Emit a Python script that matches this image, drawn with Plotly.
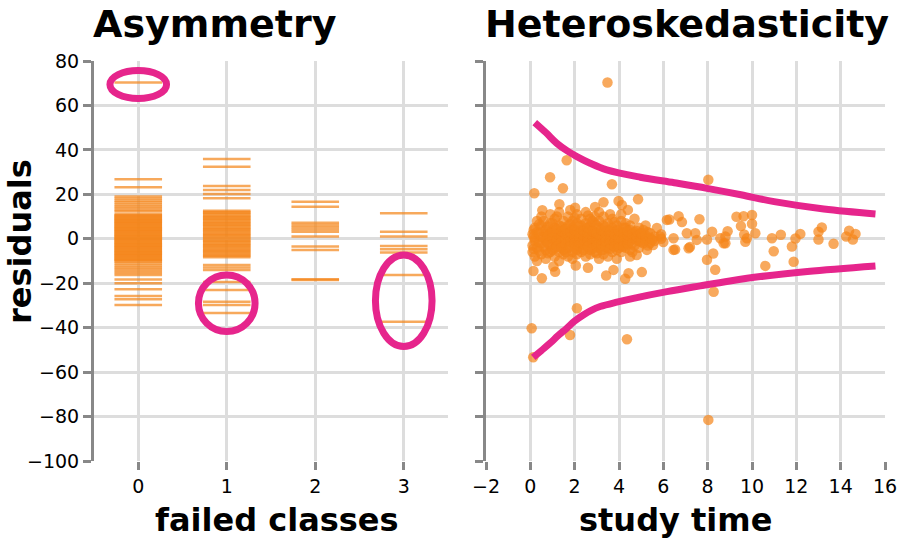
import plotly.graph_objects as go

# ---------------- data ----------------
# Left panel: residuals by number of failed classes
failed0 = [70.3, 26.8, 23.2,
           19.0, 18.1, 17.2, 16.4, 15.5, 14.6, 13.8, 13.0, 12.3,
           11.0, 10.6, 10.2, 9.8, 9.4, 9.0, 8.6, 8.2, 7.8, 7.4, 7.0, 6.6, 6.2, 5.8,
           5.4, 5.0, 4.6, 4.2, 3.8, 3.4, 3.0, 2.6, 2.2, 1.8, 1.4, 1.0, 0.6, 0.2,
           -0.2, -0.6, -1.0, -1.4, -1.8, -2.2, -2.6, -3.0, -3.4, -3.8, -4.2, -4.6,
           -5.0, -5.4, -5.8, -6.2, -6.6, -7.0, -7.4, -7.8, -8.2, -8.6, -9.0, -9.4,
           -9.8, -10.2,
           -11.0, -11.9, -12.8, -13.6, -14.5, -15.4, -16.3,
           -18.3, -20.0, -22.7, -25.7, -27.2, -29.8]
failed1 = [35.9, 32.4, 23.8, 22.0, 20.2, 18.2,
           12.6, 12.1, 11.6, 11.0, 10.4, 9.9, 9.4, 8.8, 8.3, 7.7, 7.2, 6.6, 6.1,
           5.6, 5.0, 4.5, 3.9, 3.4, 2.8, 2.3, 1.7, 1.2, 0.6, 0.1, -0.5, -1.1,
           -1.6, -2.2, -2.7, -3.3, -3.8, -4.4, -4.9, -5.5, -6.1, -6.6, -7.2,
           -7.7, -8.3,
           -11.8, -12.9, -14.0, -19.5, -23.0, -28.3, -29.8, -33.4]
failed2 = [16.7, 14.4, 7.2, 6.2, 5.2, 4.2, 3.2, 1.0, -3.5, -5.0, -18.2, -18.6]
failed3 = [11.5, 3.2, 1.0, -3.2, -4.7, -6.2, -16.3, -37.3]
failed_categories = [0, 1, 2, 3]

# Highlight ellipses (center x, center y, half width, half height) in data units
ellipse_cx = [0, 1, 3]
ellipse_cy = [69.4, -29.0, -27.9]
ellipse_rx = [0.32, 0.32, 0.32]
ellipse_ry = [6.3, 12.7, 20.6]

# Right panel: residuals vs study time
study_outer_x = [3.48, 1.64, 0.89, 1.47, 0.18, 3.68, 8.03, 1.31, 0.54, 4.86, 3.98, 4.13,
                 3.30, 2.02, 2.92, 0.14, 0.52, 1.04, 1.12, 2.10, 0.06, 1.79, 0.13, 4.36,
                 8.27, 8.34, 7.97, 8.25, 2.60, 2.05, 3.42, 3.75, 4.28, 4.43, 5.03, 4.80,
                 5.26, 6.46, 7.14, 5.54, 9.70, 8.03, 6.27, 6.69, 6.84, 7.63, 9.30, 9.62,
                 10.0, 10.0, 9.50, 5.71, 6.46, 7.06, 7.44, 8.20, 8.90, 9.65, 10.15, 7.97,
                 8.57, 8.80, 6.53, 7.20, 9.77, 10.9, 11.3, 12.18, 11.96, 10.98, 11.8, 11.88,
                 10.6, 13.0, 13.15, 13.0, 13.68, 14.38, 14.67, 14.55, 14.25, 5.86, 5.41,
                 7.51, 6.16, 8.72, 8.80, 6.00, 5.20, 5.50]
study_outer_y = [70.3, 35.3, 27.7, 22.7, 20.5, 24.5, 26.6, 15.5, 12.8, 17.8, 17.0, 15.2,
                 16.4, 14.0, 14.3, -14.5, -17.8, -12.5, -14.8, -31.3, -40.3, -43.3, -53.3,
                 -45.2, -23.8, -13.9, -9.4, -6.6, -13.0, -12.0, -16.5, -14.0, -18.0, -15.5,
                 -15.0, -7.3, -5.0, -5.0, -4.3, -2.8, -1.3, -81.5, 8.7, 10.1, 7.5, 8.8, 9.9,
                 10.1, 10.7, 6.8, 5.7, 4.9, 0.2, 2.5, 2.5, 3.2, 3.4, 1.9, 2.5, -0.3, 0.2,
                 -2.0, -4.8, -3.7, 0.2, 0.2, 1.8, 2.2, 0.1, -5.6, -3.5, -10.3, -12.2, 3.2,
                 5.1, -0.3, -2.2, 3.6, 2.2, -0.3, 1.0, 1.0, 2.5, -0.5, 8.5, -2.0, 1.0,
                 -1.5, 6.0, -0.5]

cluster_x = [0.1, 0.1, 0.1,
             0.2, 0.2, 0.2, 0.2,
             0.3, 0.3, 0.3, 0.3,
             0.5, 0.5, 0.5, 0.5, 0.5,
             0.7, 0.7, 0.7, 0.7, 0.7,
             0.9, 0.9, 0.9, 0.9, 0.9, 0.9,
             1.1, 1.1, 1.1, 1.1, 1.1, 1.1,
             1.3, 1.3, 1.3, 1.3, 1.3, 1.3, 1.3,
             1.5, 1.5, 1.5, 1.5, 1.5, 1.5, 1.5,
             1.7, 1.7, 1.7, 1.7, 1.7, 1.7, 1.7,
             1.9, 1.9, 1.9, 1.9, 1.9, 1.9, 1.9, 1.9,
             2.1, 2.1, 2.1, 2.1, 2.1, 2.1, 2.1, 2.1,
             2.3, 2.3, 2.3, 2.3, 2.3, 2.3, 2.3, 2.3,
             2.5, 2.5, 2.5, 2.5, 2.5, 2.5, 2.5, 2.5,
             2.7, 2.7, 2.7, 2.7, 2.7, 2.7, 2.7, 2.7,
             2.9, 2.9, 2.9, 2.9, 2.9, 2.9, 2.9,
             3.1, 3.1, 3.1, 3.1, 3.1, 3.1, 3.1, 3.1,
             3.3, 3.3, 3.3, 3.3, 3.3, 3.3, 3.3,
             3.5, 3.5, 3.5, 3.5, 3.5, 3.5, 3.5,
             3.7, 3.7, 3.7, 3.7, 3.7, 3.7, 3.7,
             3.9, 3.9, 3.9, 3.9, 3.9, 3.9, 3.9,
             4.1, 4.1, 4.1, 4.1, 4.1, 4.1, 4.1,
             4.3, 4.3, 4.3, 4.3, 4.3, 4.3,
             4.5, 4.5, 4.5, 4.5, 4.5, 4.5,
             4.7, 4.7, 4.7, 4.7, 4.7,
             4.9, 4.9, 4.9, 4.9,
             5.1, 5.1, 5.1,
             5.3, 5.3, 5.3,
             5.6, 5.6,
             5.9, 5.9]
cluster_y = [-3, 2, -6,
             0, 5, -8, -1,
             3, -4, 8, -10,
             1, -2, 6, -7, 10,
             -1, 4, -5, 2, -9,
             0, 7, -3, -6, 3, 11,
             2, -4, 5, -1, -8, 9,
             -2, 1, 6, -6, 3, -10, 12,
             0, 4, -3, 8, -5, 2, -7,
             -1, 3, 6, -4, 10, -8, 1,
             2, -2, 5, -6, 0, 8, -9, 4,
             -3, 1, 7, -5, 3, 11, -1, -7,
             0, 4, -4, 2, 9, -6, -2, 6,
             1, -1, 5, -3, -8, 3, 12, 7,
             -2, 2, 6, -5, 0, 9, -7, 4,
             1, -3, 3, -6, 7, -1, 10,
             0, 5, -4, 2, -2, 8, -9, 12,
             -1, 3, -5, 6, 1, -7, 10,
             2, -2, 4, -4, 0, 7, -8,
             -1, 1, 5, -6, 3, 9, -3,
             0, 4, -2, 6, -5, 2, -9,
             1, -3, 3, 8, -6, -1, 11,
             -2, 2, 5, -4, 0, 7,
             1, -1, 4, -5, 6, -8,
             0, 3, -3, 2, 9,
             -1, 2, 5, -4,
             1, -2, 4,
             0, 3, -3,
             1, -1,
             2, 0]

cluster2_x = [0.15, 0.15, 0.15,
              0.4, 0.4, 0.4, 0.4,
              0.6, 0.6, 0.6, 0.6,
              0.8, 0.8, 0.8, 0.8,
              1.0, 1.0, 1.0, 1.0, 1.0,
              1.2, 1.2, 1.2, 1.2, 1.2,
              1.4, 1.4, 1.4, 1.4, 1.4,
              1.6, 1.6, 1.6, 1.6, 1.6,
              1.8, 1.8, 1.8, 1.8, 1.8, 1.8,
              2.0, 2.0, 2.0, 2.0, 2.0, 2.0,
              2.2, 2.2, 2.2, 2.2, 2.2,
              2.4, 2.4, 2.4, 2.4, 2.4,
              2.6, 2.6, 2.6, 2.6, 2.6, 2.6,
              2.8, 2.8, 2.8, 2.8, 2.8, 2.8,
              3.0, 3.0, 3.0, 3.0, 3.0, 3.0,
              3.2, 3.2, 3.2, 3.2, 3.2,
              3.4, 3.4, 3.4, 3.4, 3.4,
              3.6, 3.6, 3.6, 3.6, 3.6, 3.6,
              3.8, 3.8, 3.8, 3.8, 3.8,
              4.0, 4.0, 4.0, 4.0, 4.0,
              4.2, 4.2, 4.2, 4.2, 4.2,
              4.4, 4.4, 4.4, 4.4, 4.4,
              4.6, 4.6, 4.6, 4.6,
              4.8, 4.8, 4.8,
              5.0, 5.0, 5.0,
              5.2, 5.2,
              5.4, 5.4]
cluster2_y = [1, -4.5, 4,
              -1.5, 2.5, -5.5, 6.5,
              0.5, -3.5, 3.5, 8,
              -2, 1.5, 5.5, -6.5,
              0.5, -2.5, 3, -5, 7,
              -0.5, 2.5, -3.5, 4.5, 10,
              1, -1.5, 3.5, -4, 5.5,
              -0.5, 2, -2.5, 4.5, -6,
              0.5, -1, 3, -3.5, 6.5, 13,
              -0.5, 1.5, -2, 4, -4.5, 9.5,
              0.5, -1.5, 2.5, -3, 5.5,
              -0.5, 1.5, -2.5, 3.5, -5,
              0.5, -1, 2.5, -3.5, 5, 10.5,
              -0.5, 1.5, -2, 3.5, -4.5, 8,
              0.5, -1.5, 2.5, -3, 6, -6.5,
              -0.5, 1, -2.5, 4, -5,
              0.5, -1, 2.5, -3.5, 5.5,
              -0.5, 1.5, -2, 3.5, -4.5, 11,
              0.5, -1.5, 2, -3.5, 7.5,
              -0.5, 1, -2.5, 3.5, -4,
              0.5, -1, 2.5, -3.5, 5,
              -0.5, 1.5, -2.5, 3.5, 13,
              0.5, -2, 2, -6,
              -0.5, 1, 3.5,
              0.5, -1.5, 2.5,
              -0.5, 1.5,
              0.5, -2]

# Envelope curves
upper_x = [0.2, 0.7, 1.19, 1.7, 2.1, 2.7, 3.45, 4.96, 6.5, 7.97, 9.5, 11.0, 13.24, 15.57]
upper_y = [52.3, 47.8, 43.0, 39.3, 37.0, 34.0, 31.0, 27.7, 25.2, 22.7, 19.8, 16.7, 13.4, 11.2]
lower_x = [0.13, 0.5, 0.89, 1.25, 1.64, 2.0, 2.39, 2.75, 3.15, 3.9, 4.65, 6.16, 7.67, 9.0, 10.38, 12.5, 15.57]
lower_y = [-53.4, -50.3, -47.0, -43.6, -40.3, -37.0, -34.3, -32.2, -30.5, -28.5, -26.8, -23.8, -21.2, -19.0, -17.0, -14.7, -12.2]

y_ticks = [-100, -80, -60, -40, -20, 0, 20, 40, 60, 80]
x2_ticks = [-2, 0, 2, 4, 6, 8, 10, 12, 14, 16]

# ---------------- styles ----------------
ORANGE = "#f58518"
PINK = "#e6258c"
GRID = "#dddddd"
AXIS = "#888888"
FONT = "DejaVu Sans"

fig = go.Figure()

for cat, vals in zip(failed_categories, [failed0, failed1, failed2, failed3]):
    fig.add_trace(go.Scatter(
        x=[cat] * len(vals), y=vals, mode="markers", xaxis="x", yaxis="y",
        marker=dict(symbol="line-ew", size=34, opacity=0.7,
                    line=dict(width=2.5, color=ORANGE)),
        hoverinfo="skip", showlegend=False))

fig.add_trace(go.Scatter(
    x=cluster_x + cluster2_x + study_outer_x,
    y=cluster_y + cluster2_y + study_outer_y, mode="markers",
    xaxis="x2", yaxis="y2",
    marker=dict(size=10.5, color=ORANGE, opacity=0.7, line=dict(width=0)),
    hoverinfo="skip", showlegend=False))

for cx, cy in [(upper_x, upper_y), (lower_x, lower_y)]:
    fig.add_trace(go.Scatter(
        x=cx, y=cy, mode="lines", xaxis="x2", yaxis="y2",
        line=dict(color=PINK, width=7, shape="spline", smoothing=1.0),
        hoverinfo="skip", showlegend=False))

for cx, cy, rx, ry in zip(ellipse_cx, ellipse_cy, ellipse_rx, ellipse_ry):
    fig.add_shape(type="circle", xref="x", yref="y",
                  x0=cx - rx, x1=cx + rx, y0=cy - ry, y1=cy + ry,
                  line=dict(color=PINK, width=7))

W, H = 900, 550
axis_common = dict(showgrid=True, gridcolor=GRID, gridwidth=3, zeroline=False,
                   ticks="outside", ticklen=8, tickwidth=3, tickcolor=AXIS,
                   tickfont=dict(family=FONT, size=19, color="#000"),
                   automargin=False)

fig.update_layout(
    width=W, height=H,
    margin=dict(l=0, r=0, t=0, b=0),
    paper_bgcolor="white", plot_bgcolor="white",
    xaxis=dict(domain=[94 / W, 448 / W], range=[-0.5, 3.5],
               tickmode="array", tickvals=failed_categories, showline=False,
               anchor="y", **axis_common),
    yaxis=dict(domain=[1 - 461 / H, 1 - 61 / H], range=[-100, 80],
               tickmode="array", tickvals=y_ticks, showline=True,
               linecolor=AXIS, linewidth=3, anchor="x", **axis_common),
    xaxis2=dict(domain=[486 / W, 885 / W], range=[-2, 16],
                tickmode="array", tickvals=x2_ticks, showline=False,
                anchor="y2", **axis_common),
    yaxis2=dict(domain=[1 - 461 / H, 1 - 61 / H], range=[-100, 80],
                tickmode="array", tickvals=y_ticks, showticklabels=False,
                showline=True, linecolor=AXIS, linewidth=3, anchor="x2",
                **axis_common),
)

title_font = dict(family=FONT, size=38, color="#000", weight="bold")
label_font = dict(family=FONT, size=32, color="#000", weight="bold")
ann = [
    dict(text="Asymmetry", x=214.5 / W, y=1 - 24 / H, font=title_font),
    dict(text="Heteroskedasticity", x=687 / W, y=1 - 24 / H, font=title_font),
    dict(text="failed classes", x=277 / W, y=1 - 520 / H, font=label_font),
    dict(text="study time", x=675 / W, y=1 - 520 / H, font=label_font),
    dict(text="residuals", x=20 / W, y=1 - 242 / H, font=label_font, textangle=-90),
]
for a in ann:
    fig.add_annotation(xref="paper", yref="paper", showarrow=False,
                       xanchor="center", yanchor="middle", **a)

fig.write_html("out.html",
               config={"displayModeBar": False},
               post_script="document.body.style.margin='0px';"
                           "document.body.style.overflow='hidden';")
